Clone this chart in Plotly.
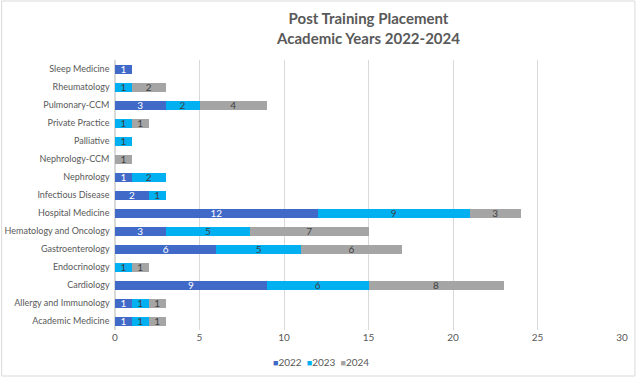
import plotly.graph_objects as go

categories = ["Academic Medicine", "Allergy and Immunology", "Cardiology", "Endocrinology",
              "Gastroenterology", "Hematology and Oncology", "Hospital Medicine",
              "Infectious Disease", "Nephrology", "Nephrology-CCM", "Palliative",
              "Private Practice", "Pulmonary-CCM", "Rheumatology", "Sleep Medicine"]
y2022 = [1, 1, 9, 0, 6, 3, 12, 2, 1, 0, 0, 0, 3, 0, 1]
y2023 = [1, 1, 6, 1, 5, 5, 9, 1, 2, 0, 1, 1, 2, 1, 0]
y2024 = [1, 1, 8, 1, 6, 7, 3, 0, 0, 1, 0, 1, 4, 2, 0]
years = ["2022", "2023", "2024"]
colors = ["#4169C8", "#00B0F0", "#A5A5A5"]
text_colors = ["#FFFFFF", "#404040", "#404040"]

FONT = "Lato, 'Liberation Sans', sans-serif"

fig = go.Figure()
for name, vals, col, tcol in zip(years, [y2022, y2023, y2024], colors, text_colors):
    fig.add_trace(go.Bar(
        y=categories, x=vals, name=name, orientation="h",
        marker=dict(color=col, line=dict(width=0)),
        text=[str(v) if v else "" for v in vals],
        textposition="inside", insidetextanchor="middle", constraintext="none",
        textangle=0,
        textfont=dict(color=tcol, size=10, family=FONT),
        hoverinfo="x+y+name", showlegend=False,
    ))

W, H = 640, 378
l, r, t, b = 115, 15, 60, 48

# compact legend drawn as text (swatch + label per series)
legend_text = "&nbsp;&nbsp;".join(
    f"<span style='color:{c};font-size:9px'>■</span>{y}" for y, c in zip(years, colors)
)

fig.update_layout(
    width=W, height=H,
    barmode="stack", bargap=0.5,
    margin=dict(l=l, r=r, t=t, b=b),
    paper_bgcolor="white", plot_bgcolor="white",
    font=dict(family=FONT, size=10, color="#595959"),
    title=dict(text="<b>Post Training Placement<br>Academic Years 2022-2024</b>",
               x=0.5, xanchor="center", xref="paper",
               y=1 - 24 / H, yanchor="middle", yref="container",
               font=dict(size=15, color="#595959", family=FONT)),
    xaxis=dict(range=[0, 30], dtick=5, showgrid=True, gridcolor="#D9D9D9",
               zeroline=True, zerolinecolor="#D9D9D9", showline=False,
               tickfont=dict(size=10, color="#595959"), ticks=""),
    yaxis=dict(showgrid=False, showline=False, ticks="", ticksuffix="  ",
               tickfont=dict(size=9, color="#595959"), automargin=False),
    showlegend=False,
    annotations=[dict(text=legend_text, xref="paper", yref="paper",
                      x=(322 - l) / (W - l - r), y=(H - b - 362) / (H - t - b),
                      xanchor="center", yanchor="middle", showarrow=False,
                      font=dict(size=10, color="#595959", family=FONT))],
    shapes=[dict(type="rect", xref="paper", yref="paper",
                 x0=(1 - l) / (W - l - r), x1=(638 - l) / (W - l - r),
                 y0=(H - b - 376) / (H - t - b), y1=(H - b - 1) / (H - t - b),
                 line=dict(color="#D9D9D9", width=1), fillcolor="rgba(0,0,0,0)",
                 layer="below")],
)

fig.write_html("out.html", config={"displayModeBar": False},
               post_script="document.body.style.margin='0px';")
